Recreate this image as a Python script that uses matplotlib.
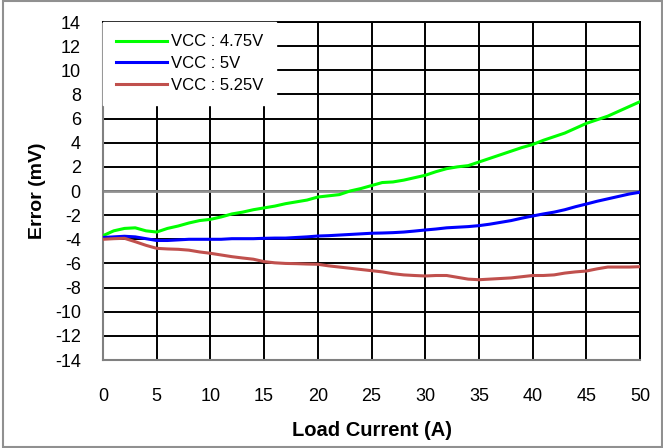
import matplotlib
matplotlib.use('Agg')
import matplotlib.pyplot as plt

plt.rcParams['font.family'] = ['Liberation Sans', 'DejaVu Sans']
plt.rcParams['axes.unicode_minus'] = False

# load current (A) and output error (mV) per supply voltage
current = list(range(0, 51))
err_475 = [-3.7, -3.3, -3.1, -3.05, -3.3, -3.4, -3.1, -2.9, -2.65, -2.45,
           -2.35, -2.15, -1.9, -1.75, -1.55, -1.4, -1.25, -1.05, -0.9, -0.75,
           -0.5, -0.4, -0.3, 0.0, 0.2, 0.45, 0.7, 0.75, 0.9, 1.1,
           1.3, 1.6, 1.85, 2.0, 2.1, 2.4, 2.7, 3.0, 3.3, 3.6,
           3.85, 4.2, 4.5, 4.8, 5.2, 5.6, 5.9, 6.2, 6.6, 7.0, 7.4]
err_500 = [-3.85, -3.8, -3.75, -3.8, -3.95, -4.1, -4.1, -4.05, -4.0, -4.0,
           -4.0, -4.0, -3.95, -3.95, -3.95, -3.92, -3.9, -3.9, -3.85, -3.8,
           -3.73, -3.7, -3.65, -3.6, -3.55, -3.5, -3.48, -3.45, -3.4, -3.32,
           -3.23, -3.15, -3.05, -3.0, -2.95, -2.87, -2.75, -2.6, -2.45, -2.25,
           -2.07, -1.9, -1.75, -1.55, -1.3, -1.08, -0.85, -0.65, -0.45, -0.25, -0.1]
err_525 = [-4.0, -3.95, -3.92, -4.2, -4.5, -4.75, -4.8, -4.83, -4.9, -5.05,
           -5.16, -5.3, -5.44, -5.55, -5.65, -5.85, -5.95, -6.0, -6.02, -6.05,
           -6.07, -6.2, -6.3, -6.4, -6.5, -6.6, -6.7, -6.85, -6.95, -7.0,
           -7.04, -7.0, -7.0, -7.15, -7.3, -7.35, -7.3, -7.25, -7.2, -7.1,
           -7.0, -7.0, -6.95, -6.8, -6.7, -6.63, -6.45, -6.3, -6.3, -6.3, -6.27]

fig = plt.figure(figsize=(6.63, 4.48), dpi=100)
ax = fig.add_axes([103 / 663, 1 - 360 / 448, 537 / 663, 338 / 448])

ax.set_xlim(0, 50)
ax.set_ylim(-14, 14)
ax.set_xticks(range(0, 51, 5))
ax.set_yticks(range(-14, 15, 2))
ax.grid(True, color='black', lw=1.4)
ax.tick_params(length=0, labelsize=13)
ax.tick_params(axis='x', pad=20)
ax.tick_params(axis='y', pad=16)
ax.set_axisbelow(True)
ax.axhline(0, color='#909090', lw=2, zorder=1.5)
for side in ['left', 'bottom']:
    ax.spines[side].set_color('#808080')
    ax.spines[side].set_linewidth(1.5)
for side in ['top', 'right']:
    ax.spines[side].set_color('black')
    ax.spines[side].set_linewidth(1.4)

ax.plot(current, err_475, color='#00FF00', lw=2.2, label='VCC : 4.75V', zorder=3)
ax.plot(current, err_500, color='#0000FF', lw=2.2, label='VCC : 5V', zorder=3)
ax.plot(current, err_525, color='#C0504D', lw=2.2, label='VCC : 5.25V', zorder=3)

ax.set_xlabel('Load Current (A)', fontsize=14.5, fontweight='bold', labelpad=12)
ax.set_ylabel('Error (mV)', fontsize=14, fontweight='bold', labelpad=6)

leg = ax.legend(loc='upper left', fontsize=12, frameon=True, fancybox=False,
                borderaxespad=0, handlelength=3.1, handletextpad=0.25,
                borderpad=0.75, labelspacing=0.4)
leg.get_frame().set_edgecolor('white')
leg.get_frame().set_alpha(1)

# thin gray border round the figure
fig.patches.append(plt.Rectangle((0.004, 0.002), 0.994, 0.995, transform=fig.transFigure,
                                 fill=False, edgecolor='#909090', lw=1.5))

fig.savefig('out.png', dpi=100)
